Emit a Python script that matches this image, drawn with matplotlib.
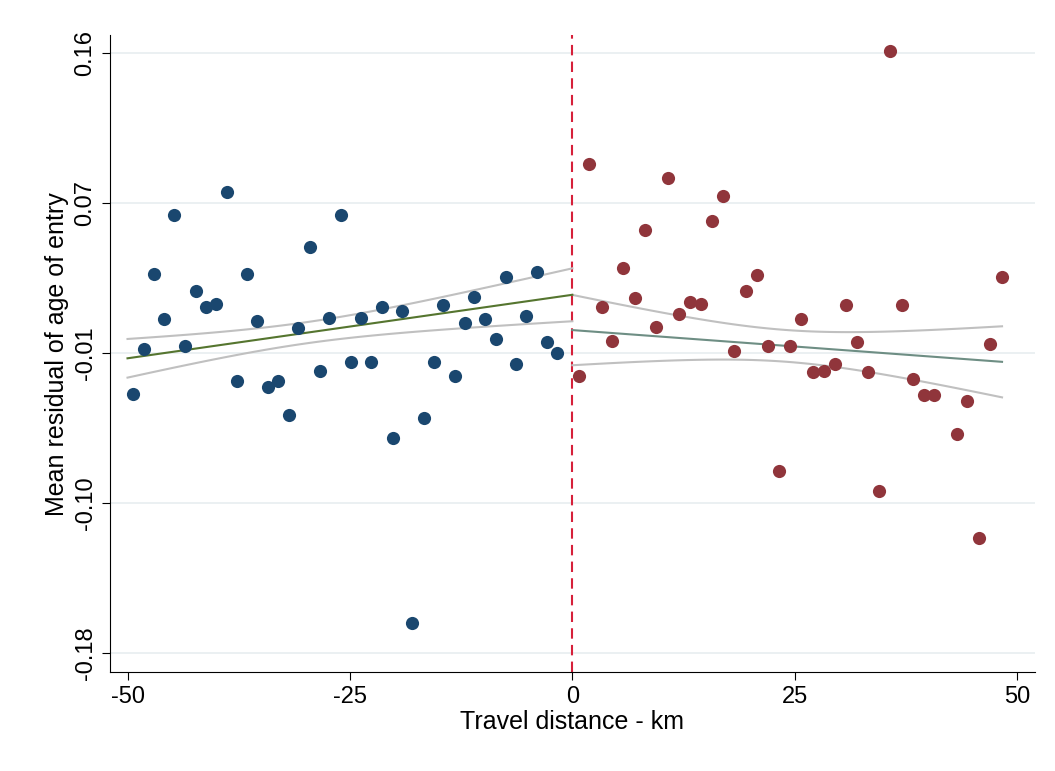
import numpy as np
import matplotlib
matplotlib.use("Agg")
import matplotlib.pyplot as plt

plt.rcParams['font.family'] = ['Liberation Sans', 'DejaVu Sans']

xl = [-49.4,-48.1,-47.0,-45.9,-44.8,-43.5,-42.3,-41.2,-40.1,-38.8,-37.7,-36.6,-35.4,-34.2,-33.1,-31.9,-30.8,-29.5,-28.4,-27.3,-26.0,-24.9,-23.7,-22.6,-21.4,-20.2,-19.1,-18.0,-16.7,-15.6,-14.5,-13.2,-12.1,-11.0,-9.8,-8.6,-7.5,-6.3,-5.2,-4.0,-2.8,-1.7]
yl = [-0.033,-0.008,0.035,0.009,0.068,-0.006,0.025,0.016,0.018,0.081,-0.026,0.035,0.008,-0.029,-0.026,-0.045,0.004,0.050,-0.020,0.010,0.068,-0.015,0.010,-0.015,0.016,-0.058,0.014,-0.163,-0.047,-0.015,0.017,-0.023,0.007,0.022,0.009,-0.002,0.033,-0.016,0.011,0.036,-0.004,-0.010]
xr = [0.7,1.9,3.3,4.5,5.7,7.0,8.2,9.4,10.7,12.0,13.2,14.5,15.7,16.9,18.2,19.5,20.8,22.0,23.2,24.5,25.7,27.0,28.3,29.5,30.8,32.0,33.2,34.5,35.7,37.0,38.3,39.5,40.7,43.2,44.4,45.7,47.0,48.3]
yr = [-0.023,0.097,0.016,-0.003,0.038,0.021,0.060,0.005,0.089,0.012,0.019,0.018,0.065,0.079,-0.009,0.025,0.034,-0.006,-0.077,-0.006,0.009,-0.021,-0.020,-0.016,0.017,-0.004,-0.021,-0.088,0.161,0.017,-0.025,-0.034,-0.034,-0.056,-0.037,-0.115,-0.005,0.033]

# fitted lines (from underlying micro data): x-range, endpoint values, CI shape
fit_left = dict(x=(-50, 0), y=(-0.013, 0.023), c=-30, h0=0.006, k=2.1e-7)
fit_right = dict(x=(0, 48.3), y=(0.003, -0.015), c=24, h0=0.009, k=5.5e-7)

yticks = list(np.linspace(0.16, -0.18, 5))
ylabels = ["0.16", "0.07", "-0.01", "-0.10", "-0.18"]
xticks = [-50, -25, 0, 25, 50]
xlabels = ["-50", "-25", "0", "25", "50"]

fig = plt.figure(figsize=(10.55, 7.71), dpi=100)
ax = fig.add_axes([0.104, 0.128, 0.877, 0.826])

for x, y, f, col, lc in [(xl, yl, fit_left, "#1a476f", "#55752f"),
                         (xr, yr, fit_right, "#90353b", "#6e8e84")]:
    xs = np.linspace(f["x"][0], f["x"][1], 100)
    yh = np.interp(xs, f["x"], f["y"])
    hw = np.sqrt(f["h0"]**2 + f["k"]*(xs - f["c"])**2)
    ax.plot(xs, yh - hw, color="#c0c0c0", lw=1.5, zorder=2)
    ax.plot(xs, yh + hw, color="#c0c0c0", lw=1.5, zorder=2)
    ax.plot(xs, yh, color=lc, lw=1.5, zorder=3)
    ax.scatter(x, y, s=90, color=col, zorder=4, linewidths=0)

ax.axvline(0, color="#d6203a", ls=(0, (5, 3)), lw=1.5, zorder=1)
ax.set_xlim(-52, 52)
ax.set_ylim(-0.191, 0.17)
ax.set_yticks(yticks)
ax.set_yticklabels(ylabels, rotation=90, va="center")
ax.set_xticks(xticks)
ax.set_xticklabels(xlabels)
ax.tick_params(labelsize=17, length=6)
ax.grid(axis="y", color="#e8eef0", lw=1.2)
ax.set_axisbelow(True)
for s in ["top", "right"]:
    ax.spines[s].set_visible(False)
ax.set_xlabel("Travel distance - km", fontsize=18, labelpad=2)
ax.set_ylabel("Mean residual of age of entry", fontsize=18, labelpad=4)
fig.savefig("out.png")
